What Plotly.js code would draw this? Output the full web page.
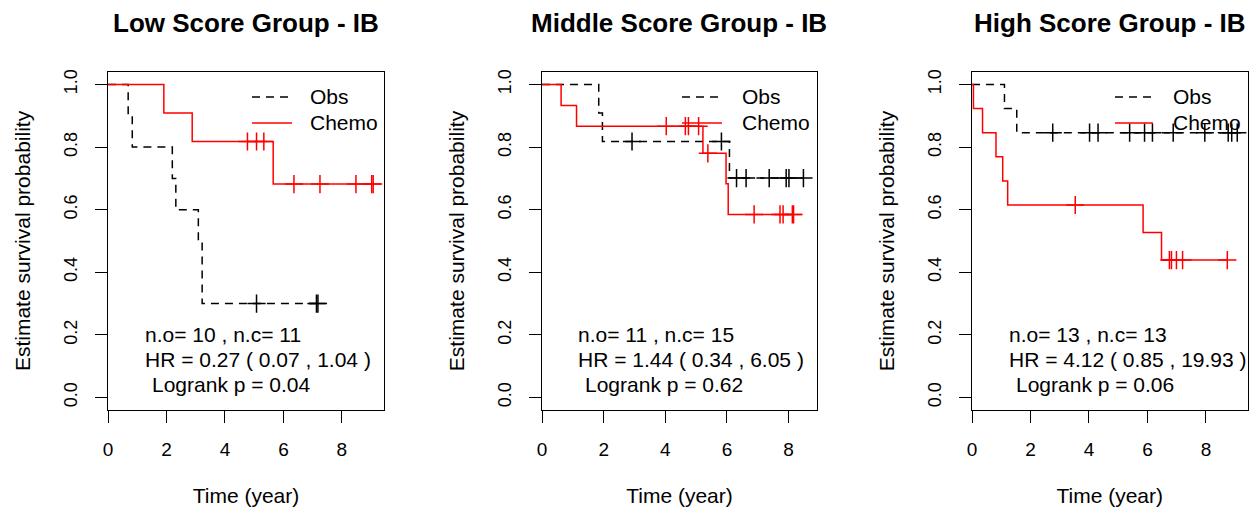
<!DOCTYPE html>
<html>
<head>
<meta charset="utf-8">
<script src="https://cdn.plot.ly/plotly-3.0.1.min.js"></script>
<style>html,body{margin:0;padding:0;background:#fff;}#chart{width:1257px;height:517px;}</style>
</head>
<body>
<div id="chart"></div>
<script>
// ---- Data (Kaplan-Meier curves) ----
const panelTitles = ["Low Score Group - IB", "Middle Score Group - IB", "High Score Group - IB"];
const xTickVals = [0, 2, 4, 6, 8];
const yTickVals = [0, 0.2, 0.4, 0.6, 0.8, 1.0];
const seriesNames = ["Obs", "Chemo"];

// Low score group
const obsLowTimes = [0, 0.69, 0.83, 2.2, 2.32, 3.09, 3.22];
const obsLowSurv = [1, 0.9, 0.8, 0.7, 0.6, 0.5, 0.3];
const obsLowCensor = [5.08, 7.13, 7.18];
const chemoLowTimes = [0, 1.91, 2.88, 5.65];
const chemoLowSurv = [1, 0.909, 0.818, 0.682];
const chemoLowCensor = [4.77, 5.08, 5.33, 6.36, 7.25, 8.48, 9.02, 9.07];

// Middle score group
const obsMidTimes = [0, 1.84, 1.96, 6.08];
const obsMidSurv = [1, 0.909, 0.818, 0.701];
const obsMidCensor = [2.92, 5.82, 6.31, 6.62, 7.37, 7.92, 8.01, 8.48];
const chemoMidTimes = [0, 0.62, 1.12, 5.22, 5.97, 6.04];
const chemoMidSurv = [1, 0.933, 0.867, 0.78, 0.683, 0.585];
const chemoMidCensor = [4.03, 4.65, 4.75, 5.08, 5.38, 6.88, 7.72, 7.82, 8.12, 8.16];

// High score group
const obsHighTimes = [0, 1.11, 1.53];
const obsHighSurv = [1, 0.923, 0.846];
const obsHighCensor = [2.76, 4.02, 4.31, 5.39, 5.90, 6.17, 6.88, 7.96, 8.76, 8.88, 9.07];
const chemoHighTimes = [0, 0.05, 0.36, 0.82, 1.05, 1.22, 5.85, 6.48];
const chemoHighSurv = [1, 0.923, 0.846, 0.769, 0.692, 0.615, 0.527, 0.439];
const chemoHighCensor = [3.53, 6.75, 6.82, 6.99, 7.2, 8.73];

// Statistics text
const statLines = [
  ["n.o= 10 , n.c= 11", "HR = 0.27 ( 0.07 , 1.04 )", "Logrank p = 0.04"],
  ["n.o= 11 , n.c= 15", "HR = 1.44 ( 0.34 , 6.05 )", "Logrank p = 0.62"],
  ["n.o= 13 , n.c= 13", "HR = 4.12 ( 0.85 , 19.93 )", "Logrank p = 0.06"]
];

// ---- Layout geometry (pixels) ----
const W = 1257, H = 517;
const boxes = [
  {l: 108, r: 384, xmax: 9.44},
  {l: 542, r: 817, xmax: 8.92},
  {l: 972, r: 1247.5, xmax: 9.42}
];
const boxTop = 72, boxBottom = 410;
const FONT = "Liberation Sans, Arial, sans-serif";

function stepAt(times, surv, t) {
  let s = surv[0];
  for (let i = 0; i < times.length; i++) if (times[i] <= t) s = surv[i];
  return s;
}

function curveTraces(times, surv, cens, color, dash, xa, ya, name) {
  const last = Math.max(times[times.length - 1], cens.length ? Math.max(...cens) : 0);
  const lx = times.concat([last]);
  const ly = surv.concat([surv[surv.length - 1]]);
  const line = {
    x: lx, y: ly, xaxis: xa, yaxis: ya, name: name, type: "scatter", mode: "lines",
    line: {shape: "hv", color: color, width: 1.5, dash: dash}, showlegend: false, hoverinfo: "skip"
  };
  const marks = {
    x: cens, y: cens.map(c => stepAt(times, surv, c)), xaxis: xa, yaxis: ya, name: name + " censored",
    type: "scatter", mode: "markers",
    marker: {symbol: "cross-thin", size: 13, color: color, line: {color: color, width: 1.5}},
    showlegend: false, hoverinfo: "skip"
  };
  return [line, marks];
}

const groups = [
  [obsLowTimes, obsLowSurv, obsLowCensor, chemoLowTimes, chemoLowSurv, chemoLowCensor],
  [obsMidTimes, obsMidSurv, obsMidCensor, chemoMidTimes, chemoMidSurv, chemoMidCensor],
  [obsHighTimes, obsHighSurv, obsHighCensor, chemoHighTimes, chemoHighSurv, chemoHighCensor]
];

const data = [];
const layout = {
  width: W, height: H, margin: {l: 0, r: 0, t: 0, b: 0},
  paper_bgcolor: "#fff", plot_bgcolor: "#fff", showlegend: false,
  font: {family: FONT, color: "#000"},
  annotations: [], shapes: []
};

const px2x = px => px / W;
const py2y = py => 1 - py / H;

// text positions (pixels) per panel
const textLeft = [145, 578, 1009];
const textRows = [337, 362, 387];
const legendLine = [[252, 292], [682, 722], [1115, 1153]];
const legendText = [308, 740, 1171];
const legendRows = [97, 123];

groups.forEach((g, i) => {
  const n = i + 1;
  const xa = "x" + (n === 1 ? "" : n), ya = "y" + (n === 1 ? "" : n);
  const b = boxes[i];
  data.push(...curveTraces(g[0], g[1], g[2], "#000000", "8px,6px", xa, ya, seriesNames[0]));
  data.push(...curveTraces(g[3], g[4], g[5], "#ff0000", "solid", xa, ya, seriesNames[1]));

  const scale = (b.r - b.l) / b.xmax;
  const yScale = (boxBottom - boxTop) / 1.08;
  const toX = px => (px - b.l) / scale;
  const toY = py => 1.04 - (py - boxTop) / yScale;
  // statistics text as a clipped text trace
  data.push({
    type: "scatter", mode: "text", xaxis: xa, yaxis: ya, cliponaxis: true,
    x: [toX(textLeft[i]), toX(textLeft[i]), toX(textLeft[i] + 7)],
    y: textRows.map(toY),
    text: statLines[i], textposition: "middle right",
    textfont: {family: FONT, size: 21, color: "#000"},
    showlegend: false, hoverinfo: "skip"
  });

  const axX = {
    domain: [b.l / W, b.r / W], range: [0, b.xmax], anchor: ya,
    showline: true, mirror: true, linecolor: "#000", linewidth: 1,
    ticks: "outside", ticklen: 12, tickwidth: 1, tickcolor: "#000",
    tickvals: xTickVals, showgrid: false, zeroline: false,
    tickfont: {family: FONT, size: 19, color: "#000"}, ticklabelstandoff: 10,
    title: {text: "Time (year)", font: {family: FONT, size: 21, color: "#000"}, standoff: 29},
    automargin: false, fixedrange: true
  };
  const axY = {
    domain: [1 - boxBottom / H, 1 - boxTop / H], range: [-0.04, 1.04], anchor: xa,
    showline: true, mirror: true, linecolor: "#000", linewidth: 1,
    ticks: "outside", ticklen: 12, tickwidth: 1, tickcolor: "#000",
    tickvals: yTickVals, tickformat: ".1f", tickangle: -90, showgrid: false, zeroline: false,
    tickfont: {family: FONT, size: 18, color: "#000"}, ticklabelstandoff: 11,
    title: {text: "Estimate survival probability", font: {family: FONT, size: 21, color: "#000"}, standoff: 24},
    automargin: false, fixedrange: true
  };
  layout["xaxis" + (n === 1 ? "" : n)] = axX;
  layout["yaxis" + (n === 1 ? "" : n)] = axY;

  // panel title
  layout.annotations.push({
    xref: "paper", yref: "paper", x: (b.l + b.r) / 2 / W, y: py2y(23),
    xanchor: "center", yanchor: "middle", showarrow: false,
    text: "<b>" + panelTitles[i] + "</b>", font: {family: FONT, size: 26, color: "#000"}
  });
  // legend
  const [x0, x1] = legendLine[i];
  layout.shapes.push({type: "line", xref: "paper", yref: "paper", x0: px2x(x0), x1: px2x(x1),
    y0: py2y(legendRows[0]), y1: py2y(legendRows[0]), line: {color: "#000", width: 1.5, dash: "8px,6px"}});
  layout.shapes.push({type: "line", xref: "paper", yref: "paper", x0: px2x(x0), x1: px2x(x1),
    y0: py2y(legendRows[1]), y1: py2y(legendRows[1]), line: {color: "#ff0000", width: 1.5}});
  seriesNames.forEach((nm, k) => {
    layout.annotations.push({
      xref: "paper", yref: "paper", x: px2x(legendText[i]), y: py2y(legendRows[k]),
      xanchor: "left", yanchor: "middle", showarrow: false, text: nm,
      font: {family: FONT, size: 21, color: "#000"}
    });
  });
});

Plotly.newPlot("chart", data, layout, {displayModeBar: false, staticPlot: true});
</script>
</body>
</html>
